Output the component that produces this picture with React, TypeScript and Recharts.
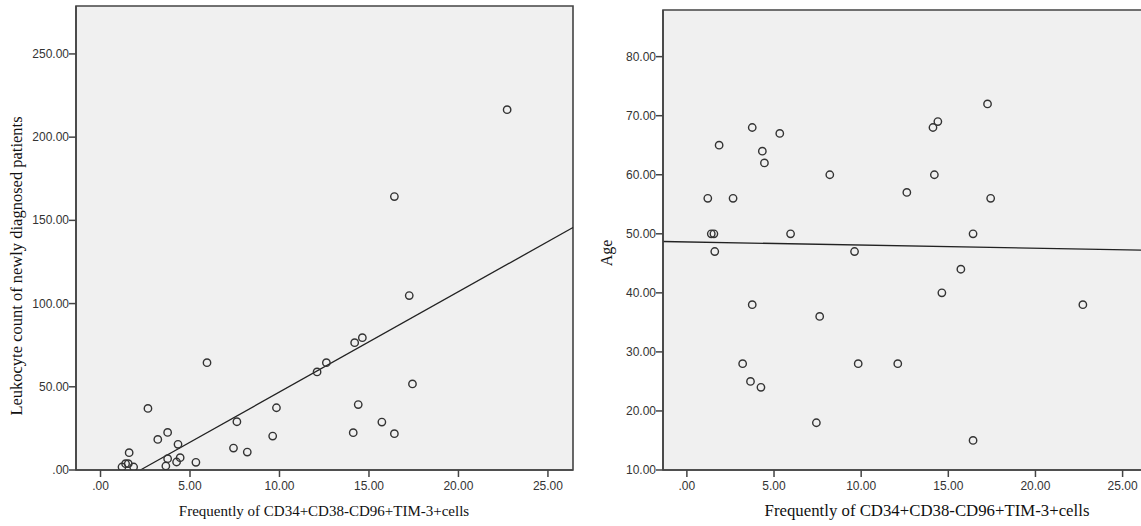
import {
  ReferenceArea,
  ReferenceLine,
  Scatter,
  ScatterChart,
  XAxis,
  YAxis,
} from "recharts";

// frequency of CD34+CD38-CD96+TIM-3+ cells (shared by both panels)
const freq = [
  1.2, 1.4, 1.55, 1.6, 1.85, 2.65, 3.2, 3.65, 3.75, 3.75, 4.25, 4.33, 4.45, 5.33, 5.95, 7.43,
  7.62, 8.2, 9.62, 9.83, 12.1, 12.62, 14.12, 14.2, 14.4, 14.63, 15.72, 16.42, 16.42, 17.25,
  17.43, 22.72,
];
const leukocytes = [
  1.8, 3.8, 3.8, 10.4, 1.8, 37, 18.4, 2.4, 22.6, 6.8, 4.8, 15.4, 7.4, 4.6, 64.5, 13.2, 29, 10.8,
  20.4, 37.4, 58.9, 64.5, 22.4, 76.5, 39.3, 79.5, 28.8, 164.3, 21.8, 104.8, 51.7, 216.5,
];
const ages = [
  56, 50, 50, 47, 65, 56, 28, 25, 68, 38, 24, 64, 62, 67, 50, 18, 36, 60, 47, 28, 28, 57, 68, 60,
  69, 40, 44, 50, 15, 72, 56, 38,
];

const xTicks = [0, 5, 10, 15, 20, 25];
const leukTicks = [0, 50, 100, 150, 200, 250];
const ageTicks = [10, 20, 30, 40, 50, 60, 70, 80];

// fit lines (start / end)
const leukFit = [
  { x: 2.23, y: 0 },
  { x: 26.4, y: 145.7 },
];
const ageFit = [
  { x: -1.37, y: 48.7 },
  { x: 26.4, y: 47.23 },
];

const leukData = freq.map((x, i) => ({ x, y: leukocytes[i] }));
const ageData = freq.map((x, i) => ({ x, y: ages[i] }));

const fmt = (v: number) => (v === 0 ? ".00" : v.toFixed(2));
const AXIS = "#444";
const sans = "'Liberation Sans', Arial, sans-serif";
const serif = "'Liberation Serif', 'Times New Roman', serif";

const Ring = (p: any) => (
  <circle cx={p.cx} cy={p.cy} r={3.7} fill="none" stroke="#333" strokeWidth={1.4} />
);

// tick mark + label drawn together (tickSize 7, tickMargin 2)
const XTick = (p: any) => (
  <g>
    <line x1={p.x} x2={p.x} y1={p.y - 9} y2={p.y - 2} stroke={AXIS} strokeWidth={1.5} />
    <text x={p.x} y={p.y + 11} textAnchor="middle" fill="#333" fontSize={12} fontFamily={sans}>
      {fmt(p.payload.value)}
    </text>
  </g>
);
const YTick = (p: any) => (
  <g>
    <line x1={p.x + 2} x2={p.x + 9} y1={p.y} y2={p.y} stroke={AXIS} strokeWidth={1.5} />
    <text x={p.x + 2} y={p.y + 4} textAnchor="end" fill="#333" fontSize={12} fontFamily={sans}>
      {fmt(p.payload.value)}
    </text>
  </g>
);

function Panel({
  data,
  yDomain,
  yTicks,
  fit,
  yWidth,
  margin,
  width,
}: {
  data: { x: number; y: number }[];
  yDomain: [number, number];
  yTicks: number[];
  fit: { x: number; y: number }[];
  yWidth: number;
  margin: { top: number; right: number; bottom: number; left: number };
  width: number;
}) {
  const xDomain: [number, number] = [-1.37, 26.4];
  return (
    <ScatterChart width={width} height={526} margin={margin}>
      <ReferenceArea
        x1={xDomain[0]}
        x2={xDomain[1]}
        y1={yDomain[0]}
        y2={yDomain[1]}
        fill="#f0f0f0"
        fillOpacity={1}
        stroke={AXIS}
        strokeWidth={1.6}
      />
      <XAxis
        type="number"
        dataKey="x"
        domain={xDomain}
        ticks={xTicks}
        allowDataOverflow
        height={30}
        stroke={AXIS}
        strokeWidth={1.6}
        tick={<XTick />}
        tickSize={7}
        tickMargin={2}
        tickLine={false}
      />
      <YAxis
        type="number"
        dataKey="y"
        domain={yDomain}
        ticks={yTicks}
        allowDataOverflow
        width={yWidth}
        stroke={AXIS}
        strokeWidth={1.6}
        tick={<YTick />}
        tickSize={7}
        tickMargin={2}
        tickLine={false}
      />
      <ReferenceLine segment={fit} stroke="#222" strokeWidth={1.3} ifOverflow="visible" />
      <Scatter data={data} shape={Ring} isAnimationActive={false} />
    </ScatterChart>
  );
}

export default function App() {
  return (
    <div
      style={{
        position: "fixed",
        left: 0,
        top: 0,
        width: 1141,
        height: 526,
        overflow: "hidden",
        background: "#fff",
      }}
    >
      <div style={{ position: "absolute", left: 0, top: 0 }}>
        <Panel
          data={leukData}
          yDomain={[0, 278.8]}
          yTicks={leukTicks}
          fit={leukFit}
          yWidth={76}
          width={590}
          margin={{ top: 6, right: 17, bottom: 26, left: 0 }}
        />
      </div>
      <div style={{ position: "absolute", left: 590, top: 0 }}>
        <Panel
          data={ageData}
          yDomain={[10, 87.9]}
          yTicks={ageTicks}
          fit={ageFit}
          yWidth={73}
          width={590}
          margin={{ top: 10, right: 33, bottom: 26, left: 0 }}
        />
      </div>
      <div
        style={{
          position: "absolute",
          left: 17,
          top: 266,
          transform: "translate(-50%, -50%) rotate(-90deg)",
          whiteSpace: "nowrap",
          fontFamily: serif,
          fontSize: 16.5,
          color: "#111",
        }}
      >
        Leukocyte count of newly diagnosed patients
      </div>
      <div
        style={{
          position: "absolute",
          left: 607,
          top: 253,
          transform: "translate(-50%, -50%) rotate(-90deg)",
          whiteSpace: "nowrap",
          fontFamily: serif,
          fontSize: 16,
          color: "#111",
        }}
      >
        Age
      </div>
      <div
        style={{
          position: "absolute",
          left: 324,
          top: 511,
          transform: "translate(-50%, -50%)",
          whiteSpace: "nowrap",
          fontFamily: serif,
          fontSize: 15,
          color: "#111",
        }}
      >
        Frequently of CD34+CD38-CD96+TIM-3+cells
      </div>
      <div
        style={{
          position: "absolute",
          left: 927,
          top: 511,
          transform: "translate(-50%, -50%)",
          whiteSpace: "nowrap",
          fontFamily: serif,
          fontSize: 16.8,
          color: "#111",
        }}
      >
        Frequently of CD34+CD38-CD96+TIM-3+cells
      </div>
    </div>
  );
}
